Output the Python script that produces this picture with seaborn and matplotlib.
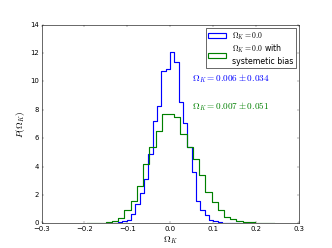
import numpy as np
import pandas as pd
import matplotlib
matplotlib.use('Agg')
import matplotlib.pyplot as plt
from matplotlib.patches import Patch
import seaborn as sns

plt.style.use('classic')

# histogram of Omega_K, no bias (30 bins)
blue_start = -0.1418
blue_width = 0.0101
blue_heights = [0.0, 0.02, 0.05, 0.15, 0.26, 0.66, 1.32, 2.11, 3.13, 4.89,
                7.19, 8.29, 10.76, 10.88, 12.1, 11.35, 8.53, 7.07, 5.36, 3.6,
                1.6, 0.9, 0.57, 0.25, 0.12, 0.05, 0.03, 0.01, 0.0, 0.0]

# histogram of Omega_K with systematic bias (30 bins)
green_start = -0.1937
green_width = 0.01451
green_heights = [0.01, 0.02, 0.04, 0.08, 0.19, 0.4, 0.9, 1.55, 2.6, 4.2,
                 5.4, 6.5, 7.7, 7.7, 7.5, 6.3, 5.4, 4.5, 3.4, 2.2,
                 1.5, 0.9, 0.47, 0.28, 0.14, 0.08, 0.05, 0.03, 0.02, 0.01]

labels = [r'$\Omega_K=0.0$', '$\\Omega_K=0.0$ with\nsystemetic bias']
results = [r'$\Omega_K=0.006\pm0.034$', r'$\Omega_K=0.007\pm0.051$']
result_y = [10.2, 8.2]

fig, ax = plt.subplots(figsize=(8, 5.976), dpi=41.5)

for start, width, heights, color in [(blue_start, blue_width, blue_heights, 'b'),
                                     (green_start, green_width, green_heights, 'g')]:
    edges = start + width * np.arange(len(heights) + 1)
    df = pd.DataFrame({'omega': (edges[:-1] + edges[1:]) / 2, 'p': heights})
    sns.histplot(data=df, x='omega', weights='p', bins=list(edges),
                 common_bins=False, element='step', fill=False,
                 color=color, linewidth=2, ax=ax)

for txt, y, color in zip(results, result_y, ['b', 'g']):
    ax.text(0.05, y, txt, color=color, va='center', fontsize=16)

handles = [Patch(facecolor='none', edgecolor=c, linewidth=2) for c in ['b', 'g']]
ax.legend(handles, labels, loc='upper right', fontsize=13.5, handlelength=2.3,
          labelspacing=0.2, borderpad=0.3, borderaxespad=0.4)

ax.set_xlim(-0.3, 0.3)
ax.set_ylim(0, 14)
ax.set_xticks(np.arange(-0.3, 0.31, 0.1))
ax.set_xlabel(r'$\Omega_K$', fontsize=16)
ax.set_ylabel(r'$P(\Omega_K)$', fontsize=16)

plt.savefig('out.png', dpi=41.5)
